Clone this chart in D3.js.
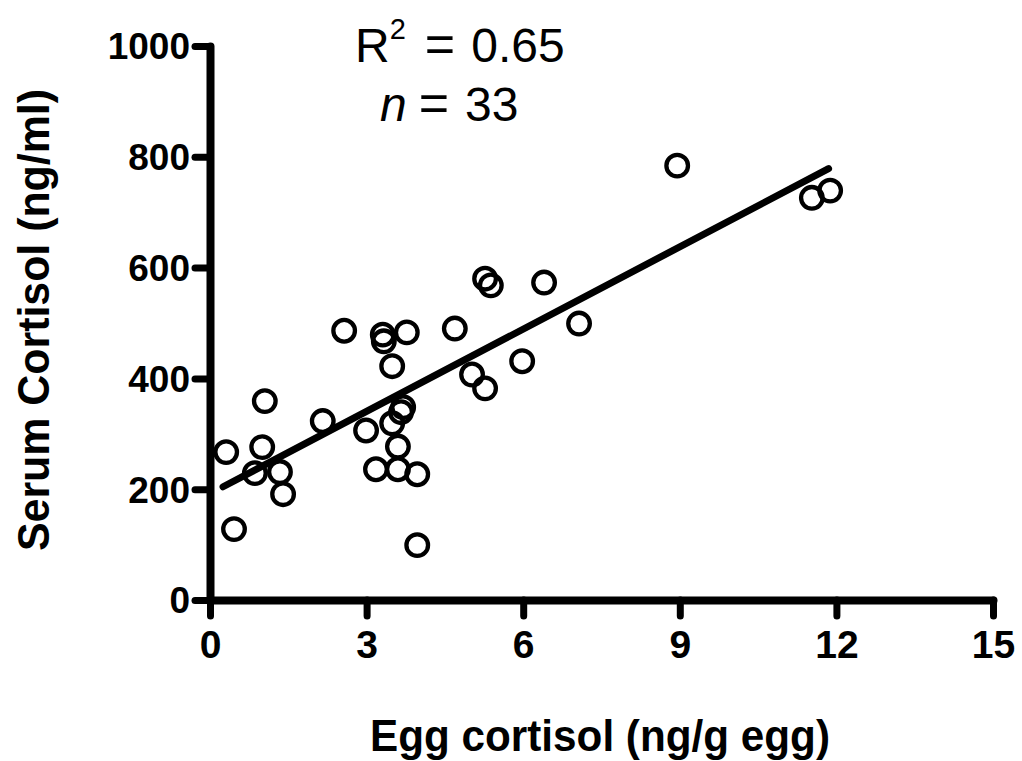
<!DOCTYPE html>
<html>
<head>
<meta charset="utf-8">
<script src="https://cdn.jsdelivr.net/npm/d3@7"></script>
<style>
  html, body { margin: 0; padding: 0; background: #fff; }
  svg { display: block; }
</style>
</head>
<body>
<svg id="chart" width="1022" height="761"></svg>
<script>
// ---- data ----
const eggCortisol = [0.31, 0.46, 0.86, 1.00, 1.05, 1.34, 1.40, 2.16, 2.57, 2.99, 3.18,
  3.31, 3.33, 3.77, 3.49, 3.49, 3.60, 3.60, 3.66, 3.70, 3.97, 3.97, 4.69, 5.02, 5.27,
  5.27, 5.38, 5.98, 6.40, 7.07, 8.95, 11.53, 11.88];
const serumCortisol = [267, 128, 229, 276, 359, 231, 191, 323, 486, 306, 236,
  479, 467, 483, 422, 319, 277, 236, 339, 348, 227, 99, 490, 407, 580,
  382, 568, 431, 573, 499, 784, 726, 739];
const xTicks = [0, 3, 6, 9, 12, 15];
const yTicks = [0, 200, 400, 600, 800, 1000];
const fitSlope = 49.5;
const fitIntercept = 192;
const fitRange = [0.25, 11.85];
const rSquared = "0.65";
const nCount = "33";
const xLabel = "Egg cortisol (ng/g egg)";
const yLabel = "Serum Cortisol (ng/ml)";

// ---- drawing ----
const svg = d3.select("#chart");
const x = d3.scaleLinear().domain([0, 15]).range([210, 993]);
const y = d3.scaleLinear().domain([0, 1000]).range([600, 46]);

const font = "'Liberation Sans', Arial, sans-serif";

// points
svg.append("g").selectAll("circle")
  .data(eggCortisol.map((d, i) => [d, serumCortisol[i]]))
  .join("circle")
  .attr("cx", d => x(d[0]))
  .attr("cy", d => y(d[1]))
  .attr("r", 10.8)
  .attr("fill", "none")
  .attr("stroke", "#000")
  .attr("stroke-width", 4.3);

// regression line
svg.append("line")
  .attr("x1", x(fitRange[0])).attr("y1", y(fitIntercept + fitSlope * fitRange[0]))
  .attr("x2", x(fitRange[1])).attr("y2", y(fitIntercept + fitSlope * fitRange[1]))
  .attr("stroke", "#000").attr("stroke-width", 7).attr("stroke-linecap", "round");

// axes
const xAxis = svg.append("g").attr("transform", `translate(0,${y(0)})`)
  .call(d3.axisBottom(x).tickValues(xTicks).tickFormat(d3.format("d"))
    .tickSize(16).tickSizeOuter(0).tickPadding(14));
const yAxis = svg.append("g").attr("transform", `translate(${x(0)},0)`)
  .call(d3.axisLeft(y).tickValues(yTicks).tickFormat(d3.format("d"))
    .tickSize(15).tickSizeOuter(0).tickPadding(5));

[xAxis, yAxis].forEach(g => {
  g.select(".domain").attr("stroke", "#000").attr("stroke-width", 8).attr("stroke-linecap", "round");
  g.selectAll(".tick line").attr("stroke", "#000").attr("stroke-width", 7).attr("stroke-linecap", "round");
  g.selectAll(".tick text").attr("fill", "#000")
    .attr("font-family", font).attr("font-weight", "bold");
});
xAxis.selectAll(".tick text").attr("font-size", 39).attr("dy", "0.71em");
yAxis.selectAll(".tick text").attr("font-size", 37).attr("dy", "0.35em");

// axis titles
svg.append("text")
  .attr("x", 600).attr("y", 751)
  .attr("text-anchor", "middle")
  .attr("font-family", font).attr("font-weight", "bold").attr("font-size", 45)
  .attr("textLength", 460).attr("lengthAdjust", "spacingAndGlyphs")
  .text(xLabel);
svg.append("text")
  .attr("transform", "translate(49,320) rotate(-90)")
  .attr("text-anchor", "middle")
  .attr("font-family", font).attr("font-weight", "bold").attr("font-size", 44)
  .attr("textLength", 462).attr("lengthAdjust", "spacingAndGlyphs")
  .text(yLabel);

// annotations
const ann1 = svg.append("text")
  .attr("x", 355).attr("y", 62)
  .attr("font-family", font).attr("font-size", 48);
ann1.append("tspan").text("R");
ann1.append("tspan").attr("font-size", 29).attr("dy", -23).text("2");
ann1.append("tspan").attr("dy", 23).attr("dx", 19).attr("font-size", 52).text("=");
ann1.append("tspan").attr("dx", 16).text(rSquared);

const ann2 = svg.append("text")
  .attr("x", 380).attr("y", 121)
  .attr("font-family", font).attr("font-size", 48);
ann2.append("tspan").attr("font-style", "italic").text("n");
ann2.append("tspan").attr("dx", 12).attr("font-size", 52).text("=");
ann2.append("tspan").attr("dx", 16).text(nCount);
</script>
</body>
</html>
